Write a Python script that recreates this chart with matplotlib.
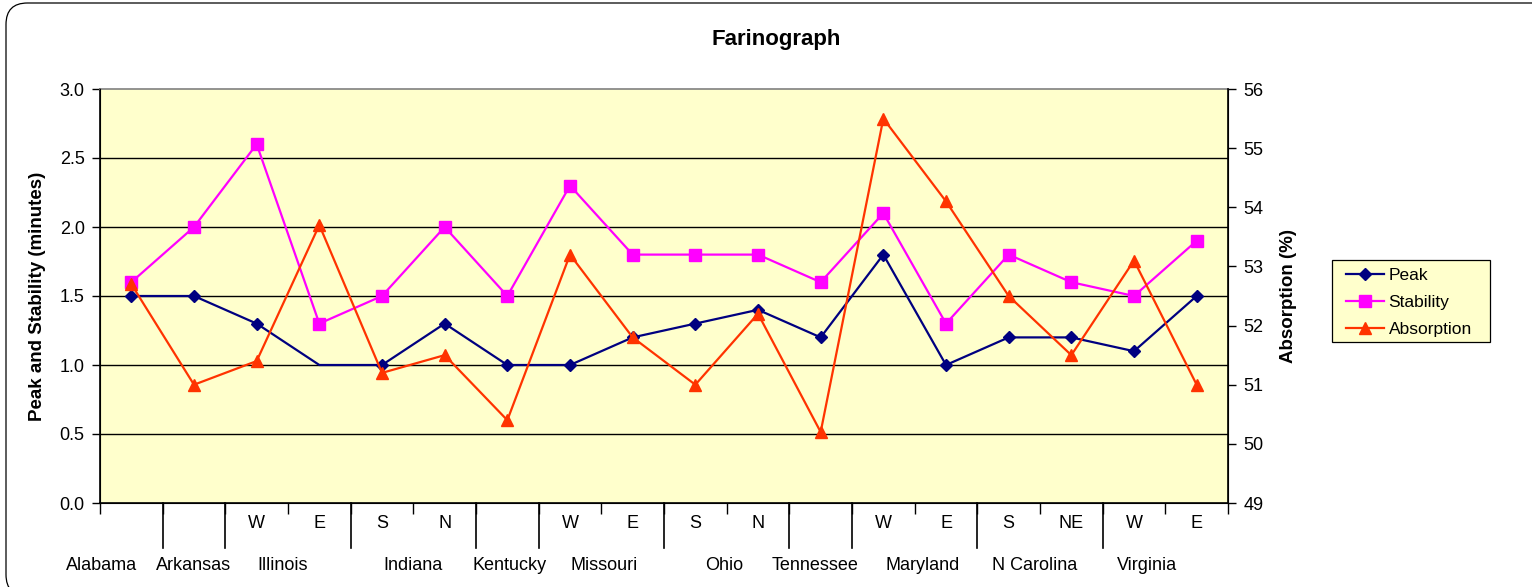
import matplotlib
matplotlib.use("Agg")
import matplotlib.pyplot as plt
from matplotlib.patches import FancyBboxPatch, Rectangle
import matplotlib.transforms as mtransforms

plt.rcParams['font.family'] = ['Liberation Sans', 'DejaVu Sans']

# --- data -------------------------------------------------------------
sub_labels = ["", "", "W", "E", "S", "N", "", "W", "E", "S", "N", "",
              "W", "E", "S", "NE", "W", "E"]
states = ["Alabama", "Arkansas", "Illinois", "Indiana", "Kentucky", "Missouri",
          "Ohio", "Tennessee", "Maryland", "N Carolina", "Virginia"]
state_sizes = [1, 1, 2, 2, 1, 2, 2, 1, 2, 2, 2]

peak = [1.5, 1.5, 1.3, 1.0, 1.0, 1.3, 1.0, 1.0, 1.2, 1.3, 1.4, 1.2,
        1.8, 1.0, 1.2, 1.2, 1.1, 1.5]
stability = [1.6, 2.0, 2.6, 1.3, 1.5, 2.0, 1.5, 2.3, 1.8, 1.8, 1.8, 1.6,
             2.1, 1.3, 1.8, 1.6, 1.5, 1.9]
absorption = [52.7, 51.0, 51.4, 53.7, 51.2, 51.5, 50.4, 53.2, 51.8, 51.0,
              52.2, 50.2, 55.5, 54.1, 52.5, 51.5, 53.1, 51.0]

left_ticks = [0.0, 0.5, 1.0, 1.5, 2.0, 2.5, 3.0]
right_ticks = [49, 50, 51, 52, 53, 54, 55, 56]

# small horizontal nudges (in category units) for the state names
state_nudge = [-0.48, 0.0, -0.08, 0.0, 0.03, 0.04, -0.04, -0.09, 0.12, -0.08, -0.29]

# --- figure -----------------------------------------------------------
W, H = 1532, 587
fig = plt.figure(figsize=(W / 100, H / 100), dpi=100)
fig.patch.set_facecolor('white')

# rounded chart-area frame (right and bottom edges run off the canvas)
border = FancyBboxPatch((6 / W, 1 - 596 / H), 1560 / W, 593 / H,
                        boxstyle="round,pad=0,rounding_size=0.014",
                        transform=fig.transFigure, fill=False,
                        edgecolor='black', linewidth=0.9,
                        mutation_aspect=W / H, clip_on=False)
fig.patches.append(border)

ax_l, ax_r, ax_t, ax_b = 100, 1228, 89, 503
ax = fig.add_axes([ax_l / W, 1 - ax_b / H, (ax_r - ax_l) / W, (ax_b - ax_t) / H])
ax.set_facecolor('#FFFFCC')

n = len(peak)
x = list(range(n))

ax.set_xlim(-0.5, n - 0.5)
ax.set_ylim(0, 3)
ax.set_yticks(left_ticks)
ax.set_yticklabels([f"{v:.1f}" for v in left_ticks], fontsize=13)
for v in left_ticks[1:-1]:
    ax.axhline(v, color='black', linewidth=1.0, zorder=1)

for s in ['left', 'bottom']:
    ax.spines[s].set_color('black')
    ax.spines[s].set_linewidth(1.2)
ax.spines['top'].set_color('#808080')
ax.spines['top'].set_linewidth(1.2)
ax.spines['right'].set_color('black')

ax.tick_params(axis='y', direction='out', length=6, width=1, pad=5)
ax.set_xticks([i - 0.5 for i in range(n + 1)])
ax.set_xticklabels([])
ax.tick_params(axis='x', direction='out', length=8, width=1)

peak_marks = [i for i in x if i != 3]
ax.plot(x, peak, color='#000080', linewidth=1.6, marker='D', markersize=6.5,
        markevery=peak_marks, label='Peak', zorder=3, clip_on=False)
ax.plot(x, stability, color='#FF00FF', linewidth=1.6, marker='s', markersize=8,
        label='Stability', zorder=3, clip_on=False)

ax.set_ylabel('Peak and Stability (minutes)', fontsize=13.5, fontweight='bold',
              labelpad=10)

ax2 = ax.twinx()
ax2.set_ylim(49, 56)
ax2.set_yticks(right_ticks)
ax2.set_yticklabels([str(v) for v in right_ticks], fontsize=13)
ax2.tick_params(axis='y', direction='out', length=6, width=1, pad=5)
ax2.spines['right'].set_linewidth(1.2)
ax2.spines['top'].set_visible(False)
ax2.plot(x, absorption, color='#FF3300', linewidth=1.6, marker='^', markersize=9,
         label='Absorption', zorder=3, clip_on=False)
ax2.set_ylabel('Absorption (%)', fontsize=13.5, fontweight='bold', labelpad=12)

# --- two-level category axis -----------------------------------------
trans = mtransforms.blended_transform_factory(ax.transData, ax.transAxes)
ax_h = ax_b - ax_t
for i, lab in enumerate(sub_labels):
    if lab:
        ax.text(i, (ax_b - 524) / ax_h, lab, transform=trans, ha='center',
                va='center', fontsize=13)

start = 0
bounds = []
for name, size, dx in zip(states, state_sizes, state_nudge):
    centre = start + (size - 1) / 2 + dx
    ax.text(centre, (ax_b - 566) / ax_h, name, transform=trans, ha='center',
            va='center', fontsize=13)
    start += size
    bounds.append(start - 0.5)
for b in bounds[:-1]:
    ax.plot([b, b], [0, (ax_b - 548) / ax_h], transform=trans, color='black',
            linewidth=1.2, clip_on=False)

fig.text(776 / W, 1 - 39 / H, 'Farinograph', ha='center', va='center',
         fontsize=16, fontweight='bold')

# --- legend: boxed panel to the right of the plot ---------------------
lx0, ly0, lx1, ly1 = 1332, 260, 1490, 342
panel = Rectangle((lx0 / W, 1 - ly1 / H), (lx1 - lx0) / W, (ly1 - ly0) / H,
                  transform=fig.transFigure, facecolor='#FFFFCC',
                  edgecolor='black', linewidth=0.9, zorder=1)
fig.patches.append(panel)

h1, l1 = ax.get_legend_handles_labels()
h2, l2 = ax2.get_legend_handles_labels()
leg = fig.legend(h1 + h2, l1 + l2, loc='upper left',
                 bbox_to_anchor=(1346 / W, 1 - 268 / H), borderaxespad=0,
                 fontsize=12.5, frameon=False, borderpad=0,
                 handlelength=2.2, handletextpad=0.25, labelspacing=0.68)

fig.savefig('out.png', dpi=100)
